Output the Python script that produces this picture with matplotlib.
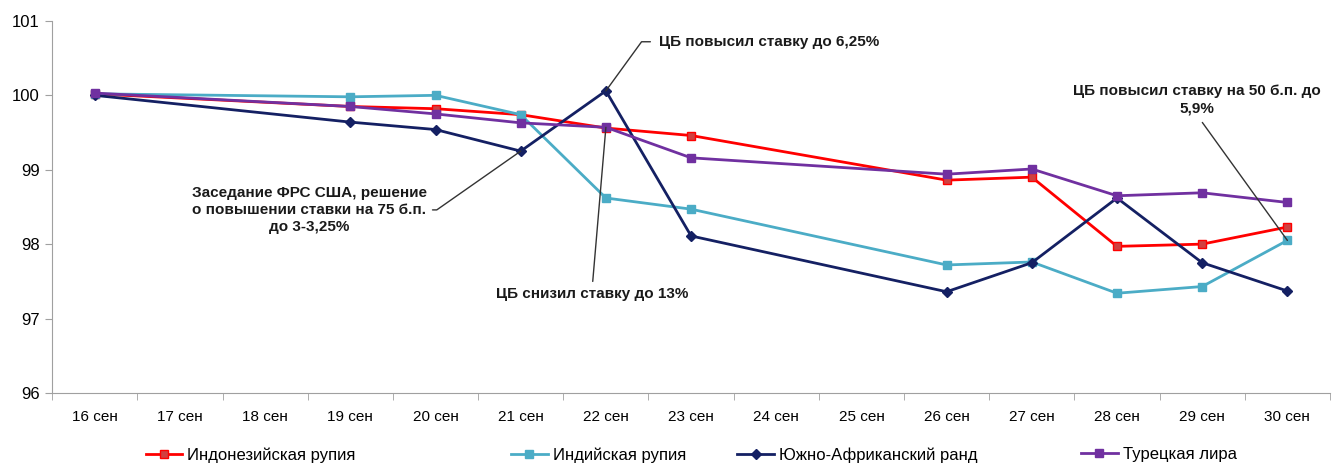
import numpy as np
import matplotlib
matplotlib.use("Agg")
import matplotlib.pyplot as plt

plt.rcParams['font.family'] = ['Liberation Sans', 'DejaVu Sans']

# данные
days = ["16 сен", "17 сен", "18 сен", "19 сен", "20 сен", "21 сен", "22 сен", "23 сен",
        "24 сен", "25 сен", "26 сен", "27 сен", "28 сен", "29 сен", "30 сен"]
trade_days = ["16 сен", "19 сен", "20 сен", "21 сен", "22 сен", "23 сен",
              "26 сен", "27 сен", "28 сен", "29 сен", "30 сен"]
idr = [100.02, 99.85, 99.82, 99.74, 99.56, 99.46, 98.86, 98.90, 97.97, 98.00, 98.23]
inr = [100.02, 99.98, 100.00, 99.74, 98.62, 98.47, 97.72, 97.76, 97.34, 97.43, 98.05]
zar = [100.00, 99.64, 99.54, 99.25, 100.06, 98.11, 97.36, 97.75, 98.62, 97.75, 97.37]
tryl = [100.03, 99.85, 99.75, 99.63, 99.57, 99.16, 98.94, 99.01, 98.65, 98.69, 98.56]
names = ["Индонезийская рупия", "Индийская рупия", "Южно-Африканский ранд", "Турецкая лира"]

x = [days.index(d) for d in trade_days]

fig = plt.figure(figsize=(13.38, 4.65), dpi=100)
ax = fig.add_axes([0.039, 0.155, 0.955, 0.800])

styles = [
    dict(color="#ff0000", marker="s", mfc="#d04040", mec="#ff0000"),
    dict(color="#4bacc6", marker="s", mfc="#4bacc6", mec="#4bacc6"),
    dict(color="#142063", marker="D", mfc="#142063", mec="#142063"),
    dict(color="#7030a0", marker="s", mfc="#7030a0", mec="#7030a0"),
]
handles = []
for vals, name, st in zip([idr, inr, zar, tryl], names, styles):
    ms = 5 if st["marker"] == "D" else 5.5
    h, = ax.plot(x, vals, lw=2.0, ms=ms, mew=1, label=name, **st)
    handles.append(h)

ax.set_xlim(-0.5, len(days) - 0.5)
ax.set_ylim(96, 101)
ax.set_yticks([96, 97, 98, 99, 100, 101])
ax.set_xticks(range(len(days)))
ax.set_xticklabels(days, fontsize=11)
ax.set_xticks(np.arange(-0.5, len(days), 1), minor=True)
ax.tick_params(axis="x", which="major", length=0, pad=12)
ax.tick_params(axis="x", which="minor", length=5, color="#a0a0a0")
ax.tick_params(axis="y", length=5, color="#a0a0a0", labelsize=12, pad=4)
for s in ["top", "right"]:
    ax.spines[s].set_visible(False)
for s in ["left", "bottom"]:
    ax.spines[s].set_color("#a0a0a0")

# подписи событий
akw = dict(fontsize=11, fontweight="bold", textcoords="data", color="#1a1a1a")
ax.annotate("Заседание ФРС США, решение\nо повышении ставки на 75 б.п.\nдо 3-3,25%",
            xy=(5, 99.25), xytext=(2.52, 98.46), ha="center", va="center", linespacing=1.3,
            arrowprops=dict(arrowstyle="-", color="#333333", lw=1, relpos=(1, 0.5),
                            shrinkA=2, shrinkB=0,
                            connectionstyle="angle,angleA=0,angleB=35,rad=0"), **akw)
ax.annotate("ЦБ повысил ставку до 6,25%",
            xy=(6, 100.06), xytext=(6.62, 100.72), ha="left", va="center",
            arrowprops=dict(arrowstyle="-", color="#333333", lw=1, relpos=(0, 0.5),
                            shrinkA=4, shrinkB=0,
                            connectionstyle="angle,angleA=0,angleB=54,rad=0"), **akw)
ax.annotate("ЦБ снизил ставку до 13%",
            xy=(6, 99.57), xytext=(5.84, 97.33), ha="center", va="center",
            arrowprops=dict(arrowstyle="-", color="#333333", lw=1, relpos=(0.5, 1),
                            shrinkA=2, shrinkB=0), **akw)
ax.annotate("ЦБ повысил ставку на 50 б.п. до\n5,9%",
            xy=(14, 98.05), xytext=(12.94, 99.94), ha="center", va="center", linespacing=1.25,
            arrowprops=dict(arrowstyle="-", color="#333333", lw=1, relpos=(0.5, 0),
                            shrinkA=4, shrinkB=0), **akw)

# легенда
lx = [0.104, 0.377, 0.546, 0.803]
for h, px in zip(handles, lx):
    fig.legend(handles=[h], loc="center left", bbox_to_anchor=(px, 0.022), frameon=False,
               fontsize=12, handlelength=2.2, handletextpad=0.3, borderaxespad=0)

fig.savefig("out.png", dpi=100)
